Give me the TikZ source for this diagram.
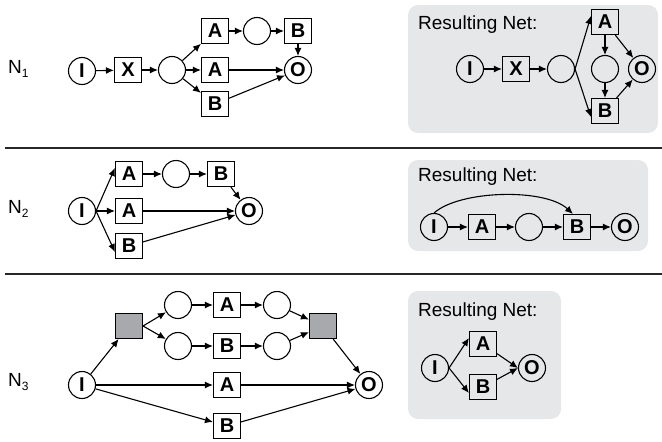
\documentclass[tikz,border=0pt]{standalone}
\usepackage{fontspec}
\setmainfont{Liberation Sans}
\usetikzlibrary{arrows.meta}
\definecolor{panelgray}{HTML}{E6E7E8}
\definecolor{silentgray}{HTML}{A7A9AC}
\tikzset{
  place/.style={circle, draw, line width=1.1pt, minimum size=27pt, inner sep=0pt,
    font=\fontsize{20}{20}\selectfont\bfseries},
  trans/.style={rectangle, draw, line width=1.1pt, minimum width=27pt, minimum height=25pt,
    inner sep=0pt, font=\fontsize{20}{20}\selectfont\bfseries},
  silent/.style={trans, fill=silentgray},
  arc/.style={line width=1.1pt, -{Latex[length=8pt,width=7pt]}},
  panel/.style={fill=panelgray, rounded corners=10pt},
  paneltitle/.style={anchor=west, inner sep=0pt, font=\fontsize{19}{19}\selectfont},
  netname/.style={anchor=west, inner sep=0pt, font=\fontsize{19}{19}\selectfont},
  rule/.style={line width=1.8pt, draw=black!85}
}
\newcommand{\netlabel}[1]{N\raisebox{-0.45ex}{\fontsize{12}{12}\selectfont #1}}
\begin{document}
\begin{tikzpicture}[x=1pt, y=-1pt]
\useasboundingbox (0,0) rectangle (662,442);

% ---------- N1 ----------
\node[netname] (n1) at (8,69) {\netlabel{1}};
\node[place] (a1i) at (82,71) {I};
\node[trans] (a1x) at (128,70) {X};
\node[place] (a1p) at (172,70) {};
\node[trans] (a1at) at (215,31) {A};
\node[place] (a1c) at (257,31) {};
\node[trans] (a1bt) at (298,31) {B};
\node[trans] (a1am) at (215,70) {A};
\node[place] (a1o) at (298,70) {O};
\node[trans] (a1bb) at (215,104) {B};
\draw[arc] (a1i) -- (a1x);
\draw[arc] (a1x) -- (a1p);
\draw[arc] (a1p) -- (a1at);
\draw[arc] (a1at) -- (a1c);
\draw[arc] (a1c) -- (a1bt);
\draw[arc] (a1bt) -- (a1o);
\draw[arc] (a1p) -- (a1am);
\draw[arc] (a1am) -- (a1o);
\draw[arc] (a1p) -- (a1bb);
\draw[arc] (a1bb) -- (a1o);

% resulting net of N1
\path[panel] (408,5) rectangle (658,133);
\node[paneltitle] (r1t) at (418,25) {Resulting Net:};
\node[place] (r1i) at (470,69) {I};
\node[trans] (r1x) at (516,69) {X};
\node[place] (r1p) at (561,69) {};
\node[trans] (r1a) at (605,22) {A};
\node[place] (r1m) at (605,69) {};
\node[trans] (r1b) at (605,111) {B};
\node[place] (r1o) at (642,69) {O};
\draw[arc] (r1i) -- (r1x);
\draw[arc] (r1x) -- (r1p);
\draw[arc] (r1p.east) -- ([yshift=6pt]r1a.west);
\draw[arc] (r1p.east) -- ([yshift=-6pt]r1b.west);
\draw[arc] (r1a) -- (r1m);
\draw[arc] (r1m) -- (r1b);
\draw[arc] (r1a) -- (r1o);
\draw[arc] (r1b) -- (r1o);

\draw[rule] (5,148) -- (662,148);

% ---------- N2 ----------
\node[netname] (n2) at (8,209) {\netlabel{2}};
\node[place] (b2i) at (82,211) {I};
\node[trans] (b2at) at (129,174) {A};
\node[place] (b2c) at (176,174) {};
\node[trans] (b2bt) at (221,174) {B};
\node[trans] (b2am) at (129,211) {A};
\node[place] (b2o) at (249,211) {O};
\node[trans] (b2bb) at (129,246) {B};
\draw[arc] (b2i.east) -- ([yshift=6pt]b2at.west);
\draw[arc] (b2at) -- (b2c);
\draw[arc] (b2c) -- (b2bt);
\draw[arc] (b2bt) -- (b2o);
\draw[arc] (b2i) -- (b2am);
\draw[arc] (b2am) -- (b2o);
\draw[arc] (b2i.east) -- ([yshift=-6pt]b2bb.west);
\draw[arc] (b2bb) -- (b2o);

% resulting net of N2
\path[panel] (408,160) rectangle (648,251);
\node[paneltitle] (r2t) at (418,177) {Resulting Net:};
\node[place] (r2i) at (434,227) {I};
\node[trans] (r2a) at (482,227) {A};
\node[place] (r2c) at (529,227) {};
\node[trans] (r2b) at (577,227) {B};
\node[place] (r2o) at (625,227) {O};
\draw[arc] (r2i) -- (r2a);
\draw[arc] (r2a) -- (r2c);
\draw[arc] (r2c) -- (r2b);
\draw[arc] (r2b) -- (r2o);
\draw[arc] (r2i.north) .. controls (460,190) and (545,188) .. ([xshift=-4pt]r2b.north);

\draw[rule] (5,274) -- (662,274);

% ---------- N3 ----------
\node[netname] (n3) at (8,382) {\netlabel{3}};
\node[place] (c3i) at (82,385) {I};
\node[silent] (c3gl) at (129,326) {};
\node[place] (c3p1) at (178,305) {};
\node[trans] (c3at) at (227,305) {A};
\node[place] (c3p2) at (277,305) {};
\node[silent] (c3gr) at (323,326) {};
\node[place] (c3p3) at (178,346) {};
\node[trans] (c3bt) at (227,346) {B};
\node[place] (c3p4) at (277,346) {};
\node[trans] (c3am) at (227,385) {A};
\node[place] (c3o) at (369,385) {O};
\node[trans] (c3bb) at (227,426) {B};
\draw[arc] (c3i) -- (c3gl);
\draw[arc] (c3gl.east) -- (c3p1);
\draw[arc] (c3gl.east) -- (c3p3);
\draw[arc] (c3p1) -- (c3at);
\draw[arc] (c3at) -- (c3p2);
\draw[arc] (c3p3) -- (c3bt);
\draw[arc] (c3bt) -- (c3p4);
\draw[arc] (c3p2) -- (c3gr);
\draw[arc] (c3p4) -- (c3gr);
\draw[arc] (c3gr) -- (c3o);
\draw[arc] (c3i) -- (c3am);
\draw[arc] (c3am) -- (c3o);
\draw[arc] (c3i) -- (c3bb);
\draw[arc] (c3bb) -- (c3o);

% resulting net of N3
\path[panel] (408,291) rectangle (561,419);
\node[paneltitle] (r3t) at (418,312) {Resulting Net:};
\node[place] (r3i) at (435,368) {I};
\node[trans] (r3a) at (483,344) {A};
\node[trans] (r3b) at (483,387) {B};
\node[place] (r3o) at (532,368) {O};
\draw[arc] (r3i.east) -- ([yshift=6pt]r3a.west);
\draw[arc] (r3i.east) -- ([yshift=-6pt]r3b.west);
\draw[arc] (r3a) -- (r3o.west);
\draw[arc] (r3b) -- (r3o.west);
\end{tikzpicture}
\end{document}
